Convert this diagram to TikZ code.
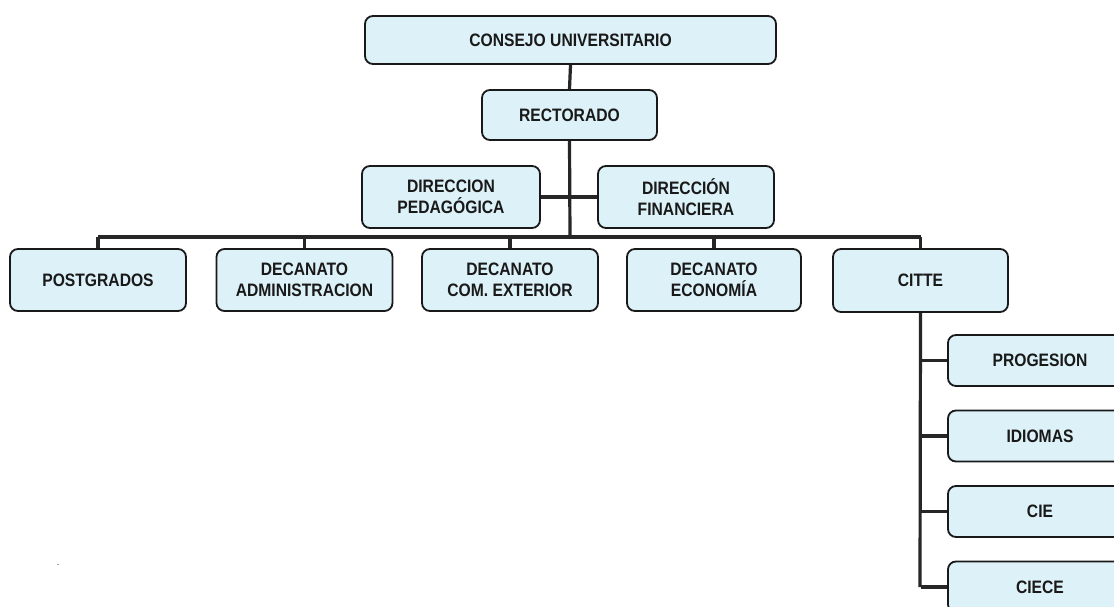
\documentclass[tikz,border=0pt]{standalone}
\usepackage{fontspec}
\setmainfont{Liberation Sans}[FakeStretch=0.87]
\begin{document}
\begin{tikzpicture}[x=1pt,y=-1pt,
  box/.style={draw=black!90, line width=1.8pt, rounded corners=8pt, fill=boxfill,
     align=center, font=\bfseries\fontsize{18}{21}\selectfont, inner sep=0pt, text=black!90},
  conn/.style={draw=black!85, line width=3.2pt}]
\definecolor{boxfill}{RGB}{221,241,248}
\useasboundingbox (0,0) rectangle (1114,607);
\clip (0,0) rectangle (1114,607);
\fill[white] (0,0) rectangle (1114,607);
% nodes
\node[box, minimum width=411pt, minimum height=48pt] (cons) at (570.5,40) {CONSEJO UNIVERSITARIO};
\node[box, minimum width=175pt, minimum height=50pt] (rect) at (569.5,115) {RECTORADO};
\node[box, minimum width=178pt, minimum height=62pt] (dped) at (451,197) {DIRECCION\\PEDAGÓGICA};
\node[box, minimum width=176pt, minimum height=62pt] (dfin) at (686,197) {DIRECCIÓN\\FINANCIERA};
\node[box, minimum width=176pt, minimum height=62pt] (post) at (98,280) {POSTGRADOS};
\node[box, minimum width=176pt, minimum height=62pt] (dadm) at (304.5,280) {DECANATO\\ADMINISTRACION};
\node[box, minimum width=176pt, minimum height=62pt] (dcom) at (510,280) {DECANATO\\COM. EXTERIOR};
\node[box, minimum width=174pt, minimum height=62pt] (deco) at (714,280) {DECANATO\\ECONOMÍA};
\node[box, minimum width=175pt, minimum height=63pt] (citte) at (920.5,280.5) {CITTE};
\node[box, minimum width=184pt, minimum height=51pt] (prog) at (1040,360.5) {PROGESION};
\node[box, minimum width=184pt, minimum height=51pt] (idio) at (1040,436) {IDIOMAS};
\node[box, minimum width=184pt, minimum height=51pt] (cie) at (1040,511.5) {CIE};
\node[box, minimum width=184pt, minimum height=51pt] (ciece) at (1040,587) {CIECE};
\node[anchor=center, text=black!80, font=\fontsize{10}{10}\selectfont] (dot) at (58,565) {.};
% connectors
\coordinate (bar) at (570,237);
\draw[conn] (cons.south) -- (rect.north);
\draw[conn] (rect.south) -- (bar);
\draw[conn] (dped.east) -- (dfin.west);
\draw[conn] (post.north |- bar) -- (citte.north |- bar);
\foreach \n in {post,dadm,dcom,deco,citte} \draw[conn] (\n.north |- bar) -- (\n.north);
\coordinate (cbot) at (920,587);
\draw[conn] (citte.south) -- (cbot);
\foreach \n in {prog,idio,cie,ciece} \draw[conn] (citte.south |- \n.west) -- (\n.west);
\end{tikzpicture}
\end{document}
